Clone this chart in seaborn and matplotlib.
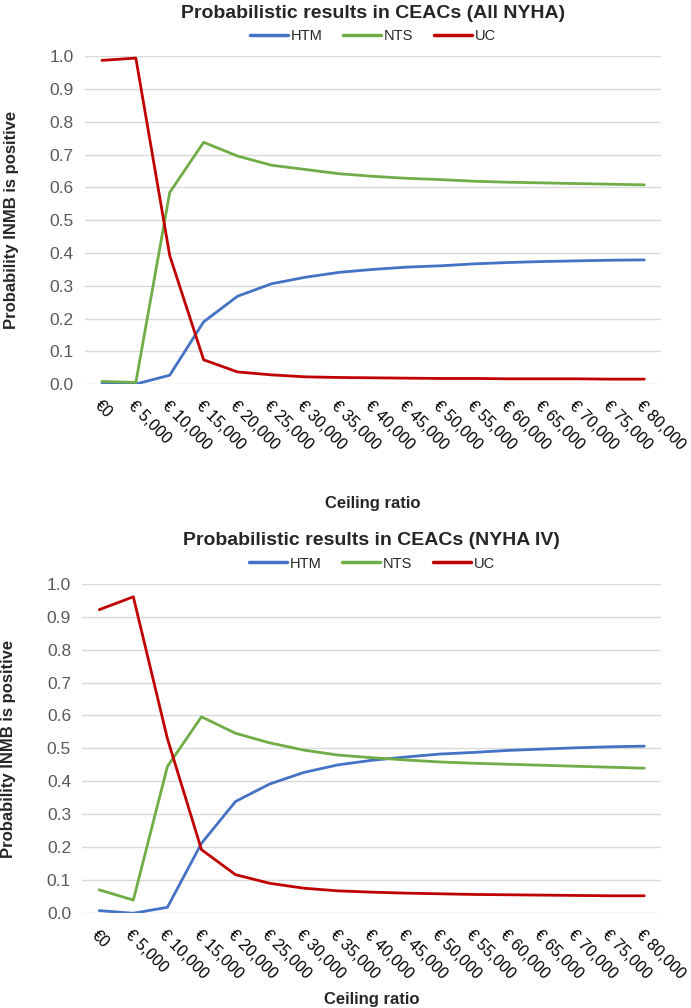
import numpy as np
import pandas as pd
import matplotlib
matplotlib.use('Agg')
import matplotlib.pyplot as plt
import seaborn as sns

# ceiling ratios (EUR)
ceiling = [0, 5000, 10000, 15000, 20000, 25000, 30000, 35000, 40000,
           45000, 50000, 55000, 60000, 65000, 70000, 75000, 80000]
tick_labels = ['€0'] + [f'€ {c:,}' for c in ceiling[1:]]
strategies = ['HTM', 'NTS', 'UC']

# All NYHA
htm_all = [0.004, 0.000, 0.027, 0.190, 0.268, 0.306, 0.326, 0.341, 0.350,
           0.357, 0.361, 0.367, 0.371, 0.374, 0.376, 0.378, 0.379]
nts_all = [0.008, 0.005, 0.585, 0.738, 0.696, 0.668, 0.655, 0.642, 0.634,
           0.628, 0.624, 0.619, 0.616, 0.614, 0.612, 0.610, 0.608]
uc_all = [0.988, 0.995, 0.392, 0.074, 0.037, 0.028, 0.022, 0.020, 0.019,
          0.018, 0.017, 0.017, 0.016, 0.016, 0.016, 0.015, 0.015]

# NYHA IV
htm_iv = [0.008, 0.000, 0.018, 0.212, 0.339, 0.392, 0.427, 0.450, 0.464,
          0.474, 0.483, 0.488, 0.494, 0.498, 0.502, 0.505, 0.507]
nts_iv = [0.071, 0.040, 0.445, 0.596, 0.546, 0.517, 0.495, 0.480, 0.472,
          0.465, 0.459, 0.455, 0.452, 0.449, 0.446, 0.443, 0.440]
uc_iv = [0.921, 0.960, 0.530, 0.193, 0.117, 0.091, 0.076, 0.068, 0.064,
         0.061, 0.059, 0.057, 0.056, 0.055, 0.054, 0.053, 0.053]

colors = {'HTM': '#4472C4', 'NTS': '#70AD47', 'UC': '#C00000'}

sns.set_style('white')
plt.rcParams['font.family'] = ['Liberation Sans', 'DejaVu Sans']


def long_df(htm, nts, uc):
    df = pd.DataFrame({'pos': range(len(ceiling)), 'HTM': htm, 'NTS': nts, 'UC': uc})
    return df.melt(id_vars='pos', var_name='strategy', value_name='prob')


def draw(ax, df, title, xlabel_y):
    sns.lineplot(data=df, x='pos', y='prob', hue='strategy', hue_order=strategies,
                 palette=colors, linewidth=2.0, ax=ax, legend=False)
    ax.set_xlim(-0.5, len(ceiling) - 0.5)
    ax.set_ylim(0, 1.0)
    ax.set_yticks(np.arange(0, 1.01, 0.1))
    ax.set_yticklabels([f'{v:.1f}' for v in np.arange(0, 1.01, 0.1)],
                       color='#595959', fontsize=12.5)
    ax.set_xticks(range(len(ceiling)))
    ax.set_xticklabels(tick_labels, rotation=-45, ha='left', va='top',
                       rotation_mode='anchor', fontsize=11.5, color='black')
    ax.tick_params(axis='y', length=0, pad=8)
    ax.tick_params(axis='x', length=0, pad=10)
    ax.grid(axis='y', color='#D9D9D9', linewidth=1.0)
    ax.set_axisbelow(True)
    for s in ax.spines.values():
        s.set_visible(False)
    ax.set_xlabel('Ceiling ratio', fontsize=12, fontweight='bold', va='center')
    ax.xaxis.set_label_coords(0.5, xlabel_y)
    ax.set_ylabel('Probability INMB is positive', fontsize=12, fontweight='bold',
                  va='center')
    ax.yaxis.set_label_coords(-0.127, 0.5)
    ax.set_title(title, fontsize=14, fontweight='bold', pad=28)
    handles = [plt.Line2D([], [], color=colors[s], linewidth=2.5) for s in strategies]
    ax.legend(handles, strategies, loc='lower center', bbox_to_anchor=(0.5, 1.0),
              ncol=3, frameon=False, handlelength=2.6, handletextpad=0.2,
              columnspacing=1.4, prop={'size': 10.5})


fig = plt.figure(figsize=(6.91, 10.08), dpi=100)
ax1 = fig.add_axes([0.123, 0.619, 0.834, 0.325])
ax2 = fig.add_axes([0.119, 0.094, 0.838, 0.327])

draw(ax1, long_df(htm_all, nts_all, uc_all), 'Probabilistic results in CEACs (All NYHA)', -0.364)
draw(ax2, long_df(htm_iv, nts_iv, uc_iv), 'Probabilistic results in CEACs (NYHA IV)', -0.262)

fig.savefig('out.png', dpi=100)
